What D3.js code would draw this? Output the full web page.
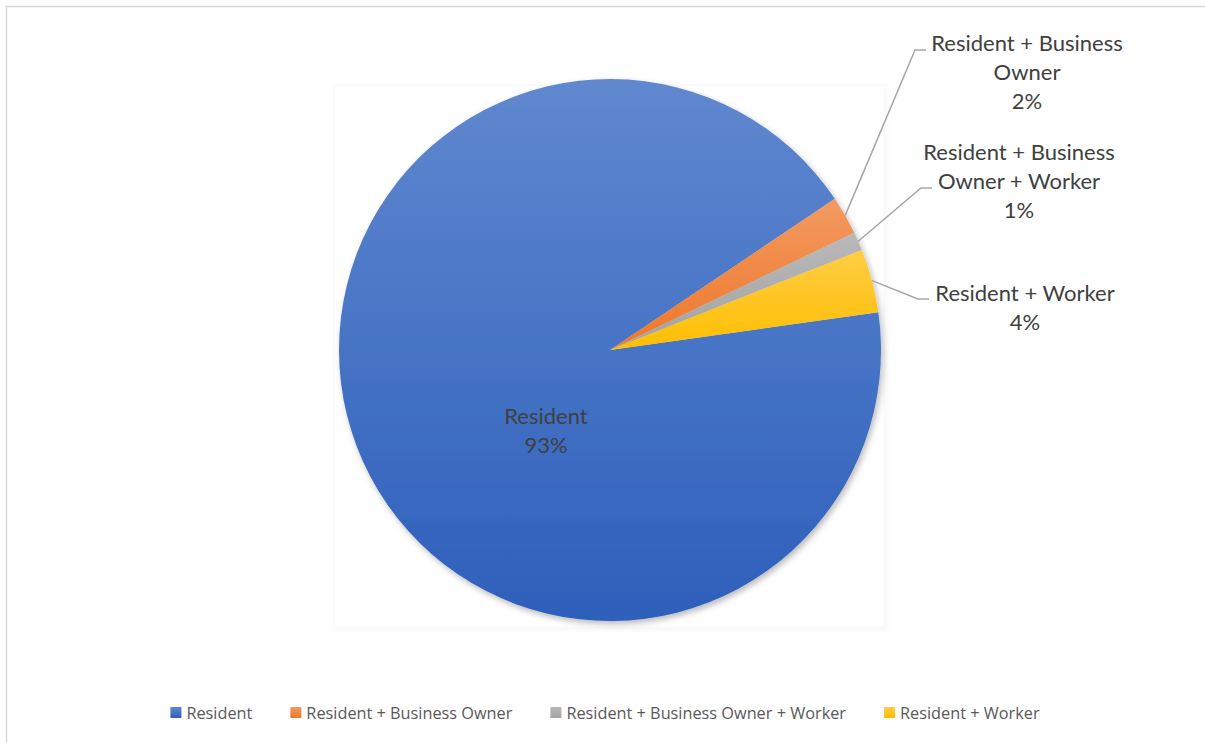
<!DOCTYPE html>
<html>
<head>
<meta charset="utf-8">
<script src="https://cdn.jsdelivr.net/npm/d3@7"></script>
<style>
  html, body { margin: 0; padding: 0; background: #fff; }
  svg { display: block; }
</style>
</head>
<body>
<div id="chart"></div>
<script>
// data
const categories = ["Resident", "Resident + Business Owner", "Resident + Business Owner + Worker", "Resident + Worker"];
const shares = [92.8, 2.3, 1.1, 3.8];
const pctLabels = ["93%", "2%", "1%", "4%"];
// label text split the way the chart wraps it
const labelLines = [
    ["Resident"],
    ["Resident + Business", "Owner"],
    ["Resident + Business", "Owner + Worker"],
    ["Resident + Worker"]
];

const width = 1205, height = 742;
const cx = 610, cy = 350, radius = 271;
const firstSliceAngle = 82; // degrees, like excel's "angle of first slice"

// gradient stops per slice (light top -> dark bottom)
const gradStops = [
    ["#6088cf", "#2d5fbb"],
    ["#f39a62", "#ee7628"],
    ["#b9b9b9", "#a2a2a2"],
    ["#ffcd45", "#ffbe00"]
];

const svg = d3.select("#chart").append("svg")
    .attr("width", width)
    .attr("height", height);

const defs = svg.append("defs");

gradStops.forEach((s, i) => {
    const g = defs.append("linearGradient")
        .attr("id", "grad" + i)
        .attr("x1", 0).attr("y1", 0).attr("x2", 0).attr("y2", 1);
    g.append("stop").attr("offset", "0%").attr("stop-color", s[0]);
    g.append("stop").attr("offset", "100%").attr("stop-color", s[1]);
});

const shadow = defs.append("filter")
    .attr("id", "pieShadow")
    .attr("x", "-10%").attr("y", "-10%").attr("width", "120%").attr("height", "120%");
shadow.append("feDropShadow")
    .attr("dx", 2).attr("dy", 3).attr("stdDeviation", 3)
    .attr("flood-color", "#000").attr("flood-opacity", 0.28);

const plotShadow = defs.append("filter")
    .attr("id", "plotShadow")
    .attr("x", "-5%").attr("y", "-5%").attr("width", "110%").attr("height", "110%");
plotShadow.append("feDropShadow")
    .attr("dx", 2).attr("dy", 3).attr("stdDeviation", 3)
    .attr("flood-color", "#000").attr("flood-opacity", 0.03);

// chart frame (only top and left edge visible in the shot)
svg.append("rect")
    .attr("x", 6.5).attr("y", 6.5)
    .attr("width", 1210).attr("height", 760)
    .attr("fill", "#fff")
    .attr("stroke", "#d9d9d9")
    .attr("stroke-width", 1.5);

// faint plot area box
svg.append("rect")
    .attr("x", 334).attr("y", 85)
    .attr("width", 550).attr("height", 542)
    .attr("fill", "#fff")
    .attr("stroke", "#f8f8f8")
    .attr("filter", "url(#plotShadow)");

const pie = d3.pie()
    .sort(null)
    .value(d => d)
    .startAngle(firstSliceAngle * Math.PI / 180)
    .endAngle(firstSliceAngle * Math.PI / 180 + 2 * Math.PI);

const arcs = pie(shares);

const arc = d3.arc()
    .innerRadius(0)
    .outerRadius(radius);

const g = svg.append("g")
    .attr("transform", `translate(${cx},${cy})`);

g.append("g")
    .attr("filter", "url(#pieShadow)")
    .selectAll("path")
    .data(arcs)
    .join("path")
    .attr("d", arc)
    .attr("fill", (d, i) => `url(#grad${i})`);

// data labels
const labelFont = "Lato, 'Liberation Sans', sans-serif";
const lineH = 29;
// label block centres (first line), set by hand in excel
const labelPos = [
    [546, 416],
    [1027, 43],
    [1019, 152],
    [1025, 293]
];
// where the leader line meets the label (elbow x, end x, y)
const leaderEnds = [
    null,
    [915, 926, 50],
    [921, 932, 188],
    [918, 929, 299]
];

arcs.forEach((a, i) => {
    if (leaderEnds[i]) {
        const mid = (a.startAngle + a.endAngle) / 2;
        const sx = cx + radius * Math.sin(mid);
        const sy = cy - radius * Math.cos(mid);
        const e = leaderEnds[i];
        svg.append("path")
            .attr("d", `M${sx},${sy}L${e[0]},${e[2]}L${e[1]},${e[2]}`)
            .attr("fill", "none")
            .attr("stroke", "#a6a6a6")
            .attr("stroke-width", 1.5);
    }
    const lines = labelLines[i].concat([pctLabels[i]]);
    const t = svg.append("text")
        .attr("class", "data-label")
        .attr("text-anchor", "middle")
        .attr("font-family", labelFont)
        .attr("font-size", 22)
        .attr("fill", "#404040");
    lines.forEach((ln, j) => {
        t.append("tspan")
            .attr("x", labelPos[i][0])
            .attr("y", labelPos[i][1] + j * lineH)
            .attr("dy", "0.35em")
            .text(ln);
    });
});

// legend
const legend = svg.append("g").attr("class", "legend");
const legendY = 713;
const items = legend.selectAll("g")
    .data(categories)
    .join("g");

items.append("rect")
    .attr("width", 11).attr("height", 11)
    .attr("y", legendY - 6)
    .attr("fill", (d, i) => `url(#grad${i})`);

items.append("text")
    .attr("x", 16)
    .attr("y", legendY)
    .attr("dy", "0.35em")
    .attr("font-family", "'Open Sans', sans-serif")
    .attr("font-size", 16.3)
    .attr("fill", "#595959")
    .text(d => d);

// place items side by side, then centre the row
let xPos = 0;
items.each(function () {
    const item = d3.select(this);
    item.attr("transform", `translate(${xPos},0)`);
    xPos += 16 + item.select("text").node().getComputedTextLength() + 38;
});
const totalW = xPos - 38;
legend.attr("transform", `translate(${605 - totalW / 2},0)`);
</script>
</body>
</html>
